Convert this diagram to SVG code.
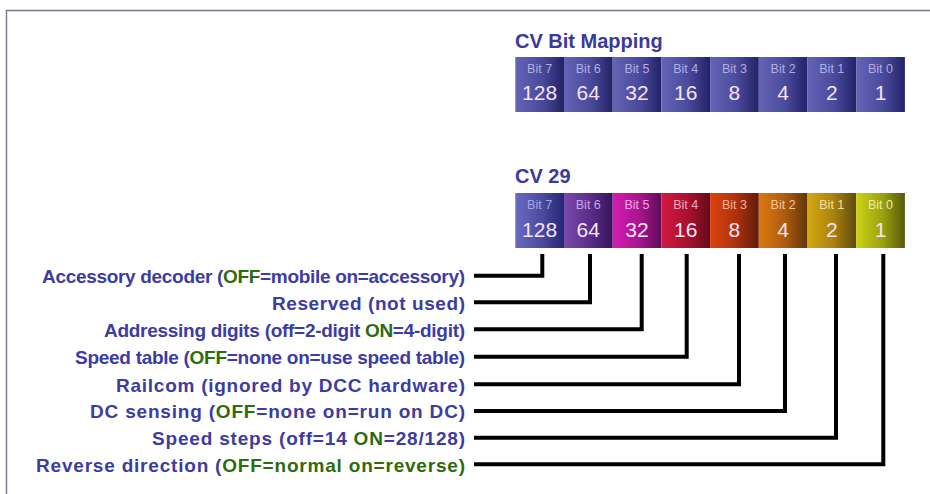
<svg xmlns="http://www.w3.org/2000/svg" width="930" height="494" viewBox="0 0 930 494">
<style>
.title{font-family:"Liberation Sans",Arial,sans-serif;font-weight:bold;font-size:20px;fill:#3a3a9c}
.bl{font-family:"Liberation Sans",Arial,sans-serif;font-size:12.5px;text-anchor:middle}
.num{font-family:"Liberation Sans",Arial,sans-serif;font-size:21px;text-anchor:middle;fill:#f6e2f4}
.lbl{font-family:"Liberation Sans",Arial,sans-serif;font-weight:bold;font-size:19px;fill:#3c3ca2}
.g{fill:#2e6b0e}
.conn{fill:none;stroke:#000;stroke-width:4;stroke-linejoin:miter;stroke-linecap:butt}
</style>
<defs>
<linearGradient id="gB" x1="0" x2="1" y1="0" y2="0"><stop offset="0" stop-color="#6464b6"/><stop offset="0.55" stop-color="#4a4a9c"/><stop offset="1" stop-color="#222268"/></linearGradient>
<linearGradient id="g7" x1="0" x2="1"><stop offset="0" stop-color="#6a6ac2"/><stop offset="0.55" stop-color="#4a4aa0"/><stop offset="1" stop-color="#262672"/></linearGradient>
<linearGradient id="g6" x1="0" x2="1"><stop offset="0" stop-color="#7a4aae"/><stop offset="0.55" stop-color="#5a2c88"/><stop offset="1" stop-color="#331458"/></linearGradient>
<linearGradient id="g5" x1="0" x2="1"><stop offset="0" stop-color="#d61cb4"/><stop offset="0.55" stop-color="#a8148e"/><stop offset="1" stop-color="#5e0c58"/></linearGradient>
<linearGradient id="g4" x1="0" x2="1"><stop offset="0" stop-color="#d41840"/><stop offset="0.55" stop-color="#a81030"/><stop offset="1" stop-color="#640c1c"/></linearGradient>
<linearGradient id="g3" x1="0" x2="1"><stop offset="0" stop-color="#dc4410"/><stop offset="0.55" stop-color="#ac300c"/><stop offset="1" stop-color="#601c0c"/></linearGradient>
<linearGradient id="g2" x1="0" x2="1"><stop offset="0" stop-color="#dc7a12"/><stop offset="0.55" stop-color="#ac5a0e"/><stop offset="1" stop-color="#60360c"/></linearGradient>
<linearGradient id="g1" x1="0" x2="1"><stop offset="0" stop-color="#d6a812"/><stop offset="0.55" stop-color="#a8800e"/><stop offset="1" stop-color="#5e4a0c"/></linearGradient>
<linearGradient id="g0" x1="0" x2="1"><stop offset="0" stop-color="#ccd414"/><stop offset="0.55" stop-color="#9aa00e"/><stop offset="1" stop-color="#56580c"/></linearGradient>
</defs>
<rect x="0" y="0" width="930" height="494" fill="#fff"/>
<path d="M6.5 494 V10.5 H930" fill="none" stroke="#72788e" stroke-width="1.4"/>

<g id="map-title"><text class="title" x="515" y="48">CV Bit Mapping</text></g>
<g id="map-bits">
<g id="m7"><rect x="515.3" y="57" width="48.7" height="55" fill="url(#gB)"/><text class="bl" x="539.6" y="73" fill="#aeaee6">Bit 7</text><text class="num" x="539.6" y="100">128</text></g>
<g id="m6"><rect x="564" y="57" width="48.7" height="55" fill="url(#gB)"/><text class="bl" x="588.3" y="73" fill="#aeaee6">Bit 6</text><text class="num" x="588.3" y="100">64</text></g>
<g id="m5"><rect x="612.7" y="57" width="48.7" height="55" fill="url(#gB)"/><text class="bl" x="637" y="73" fill="#aeaee6">Bit 5</text><text class="num" x="637" y="100">32</text></g>
<g id="m4"><rect x="661.4" y="57" width="48.7" height="55" fill="url(#gB)"/><text class="bl" x="685.7" y="73" fill="#aeaee6">Bit 4</text><text class="num" x="685.7" y="100">16</text></g>
<g id="m3"><rect x="710.1" y="57" width="48.7" height="55" fill="url(#gB)"/><text class="bl" x="734.4" y="73" fill="#aeaee6">Bit 3</text><text class="num" x="734.4" y="100">8</text></g>
<g id="m2"><rect x="758.8" y="57" width="48.7" height="55" fill="url(#gB)"/><text class="bl" x="783.1" y="73" fill="#aeaee6">Bit 2</text><text class="num" x="783.1" y="100">4</text></g>
<g id="m1"><rect x="807.5" y="57" width="48.7" height="55" fill="url(#gB)"/><text class="bl" x="831.8" y="73" fill="#aeaee6">Bit 1</text><text class="num" x="831.8" y="100">2</text></g>
<g id="m0"><rect x="856.2" y="57" width="48.7" height="55" fill="url(#gB)"/><text class="bl" x="880.5" y="73" fill="#aeaee6">Bit 0</text><text class="num" x="880.5" y="100">1</text></g>
</g>

<g id="cv29-title"><text class="title" x="515" y="183">CV 29</text></g>
<g id="cv29-bits">
<g id="b7"><rect x="515.3" y="193" width="48.7" height="55" fill="url(#g7)"/><text class="bl" x="539.6" y="209" fill="#a6a6e4">Bit 7</text><text class="num" x="539.6" y="237">128</text></g>
<g id="b6"><rect x="564" y="193" width="48.7" height="55" fill="url(#g6)"/><text class="bl" x="588.3" y="209" fill="#c4a8e6">Bit 6</text><text class="num" x="588.3" y="237">64</text></g>
<g id="b5"><rect x="612.7" y="193" width="48.7" height="55" fill="url(#g5)"/><text class="bl" x="637" y="209" fill="#f4a8ea">Bit 5</text><text class="num" x="637" y="237">32</text></g>
<g id="b4"><rect x="661.4" y="193" width="48.7" height="55" fill="url(#g4)"/><text class="bl" x="685.7" y="209" fill="#f4a8b8">Bit 4</text><text class="num" x="685.7" y="237">16</text></g>
<g id="b3"><rect x="710.1" y="193" width="48.7" height="55" fill="url(#g3)"/><text class="bl" x="734.4" y="209" fill="#f4b49a">Bit 3</text><text class="num" x="734.4" y="237">8</text></g>
<g id="b2"><rect x="758.8" y="193" width="48.7" height="55" fill="url(#g2)"/><text class="bl" x="783.1" y="209" fill="#f4c698">Bit 2</text><text class="num" x="783.1" y="237">4</text></g>
<g id="b1"><rect x="807.5" y="193" width="48.7" height="55" fill="url(#g1)"/><text class="bl" x="831.8" y="209" fill="#f2e09c">Bit 1</text><text class="num" x="831.8" y="237">2</text></g>
<g id="b0"><rect x="856.2" y="193" width="48.7" height="55" fill="url(#g0)"/><text class="bl" x="880.5" y="209" fill="#e4f0a0">Bit 0</text><text class="num" x="880.5" y="237">1</text></g>
</g>

<g id="labels">
<g id="l7"><text class="lbl" x="42" y="283" textLength="423">Accessory decoder (<tspan class="g">OFF</tspan>=mobile on=accessory)</text></g>
<g id="l6"><text class="lbl" x="272" y="309.5" textLength="193">Reserved (not used)</text></g>
<g id="l5"><text class="lbl" x="104" y="336.5" textLength="361">Addressing digits (off=2-digit <tspan class="g">ON</tspan>=4-digit)</text></g>
<g id="l4"><text class="lbl" x="75" y="364" textLength="390">Speed table (<tspan class="g">OFF</tspan>=none on=use speed table)</text></g>
<g id="l3"><text class="lbl" x="116" y="391.5" textLength="349">Railcom (ignored by DCC hardware)</text></g>
<g id="l2"><text class="lbl" x="90" y="418" textLength="375">DC sensing (<tspan class="g">OFF</tspan>=none on=run on DC)</text></g>
<g id="l1"><text class="lbl" x="152" y="445" textLength="313">Speed steps (off=14 <tspan class="g">ON</tspan>=28/128)</text></g>
<g id="l0"><text class="lbl" x="36" y="471.5" textLength="429">Reverse direction (<tspan class="g">OFF=normal on=reverse)</tspan></text></g>
</g>

<g id="connectors">
<polyline class="conn" points="542.3,254 542.3,275.7 474,275.7"/>
<polyline class="conn" points="590,254 590,302.3 474,302.3"/>
<polyline class="conn" points="641.7,254 641.7,329.3 474,329.3"/>
<polyline class="conn" points="686.7,254 686.7,356.7 474,356.7"/>
<polyline class="conn" points="739,254 739,384.3 474,384.3"/>
<polyline class="conn" points="785,254 785,411 474,411"/>
<polyline class="conn" points="836,254 836,437.7 474,437.7"/>
<polyline class="conn" points="883.3,254 883.3,464.3 474,464.3"/>
</g>
</svg>
